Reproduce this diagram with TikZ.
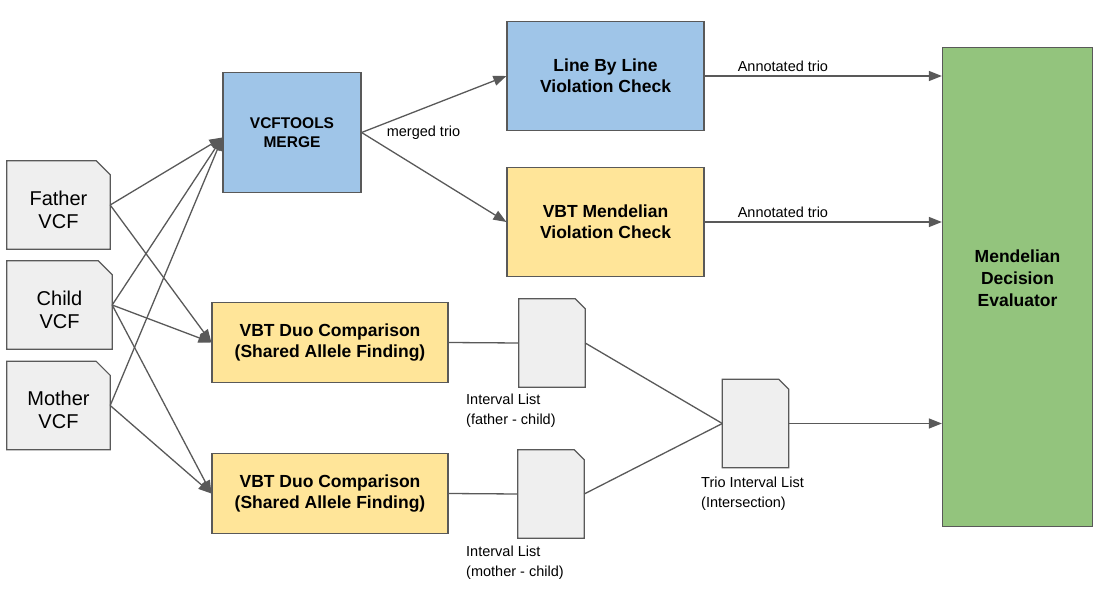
\documentclass[tikz,border=0pt]{standalone}
\usepackage{fontspec}
\setmainfont{Liberation Sans}
\usepackage{tikz}
\usetikzlibrary{arrows.meta,%
                backgrounds}

\definecolor{edgegray}{HTML}{595959}
\definecolor{docgray}{HTML}{EFEFEF}
\definecolor{toolblue}{HTML}{9FC5E8}
\definecolor{vbtyellow}{HTML}{FFE599}
\definecolor{evalgreen}{HTML}{93C47D}

\tikzset{
  box/.style = {draw=edgegray, line width=1.2pt, align=center, inner sep=0pt,
                font=\fontsize{17.5}{21}\selectfont\bfseries},
  vcfdoc/.style = {rectangle, inner sep=0pt, minimum height=88pt, text height=46.5pt,
                align=center, font=\fontsize{20}{23}\selectfont},
  listdoc/.style = {rectangle, inner sep=0pt, minimum width=66pt, minimum height=88pt},
  docline/.style = {draw=edgegray, fill=docgray, line width=1.2pt},
  doclabel/.style = {anchor=north west, align=left, inner sep=0pt,
                font=\fontsize{14.5}{19.5}\selectfont},
  flow/.style = {draw=edgegray, line width=1.3pt, -{Triangle[length=13pt,width=10pt]}},
  link/.style = {draw=edgegray, line width=1.3pt}
}

\begin{document}
\begin{tikzpicture}[x=1pt,y=-1pt]
	\useasboundingbox (0,0) rectangle (1102,593);
	% input files
	\node[vcfdoc, minimum width=103pt] (father) at (58.5,205) {Father\\VCF};
	\node[vcfdoc, minimum width=105pt] (child) at (59.5,305) {Child\\VCF};
	\node[vcfdoc, minimum width=103pt] (mother) at (58.5,405.5) {Mother\\VCF};
	% tools
	\node[box, fill=toolblue, minimum width=138pt, minimum height=120pt,
	      font=\fontsize{15.5}{19}\selectfont\bfseries] (merge) at (292,132.5) {VCFTOOLS\\MERGE};
	\node[box, fill=toolblue, minimum width=197pt, minimum height=109pt] (linecheck) at (605.5,76) {Line By Line\\Violation Check};
	\node[box, fill=vbtyellow, minimum width=197pt, minimum height=109pt] (vbtcheck) at (605.5,222) {VBT Mendelian\\Violation Check};
	\node[box, fill=vbtyellow, minimum width=236pt, minimum height=80pt] (duofather) at (330,342.5) {VBT Duo Comparison\\(Shared Allele Finding)};
	\node[box, fill=vbtyellow, minimum width=236pt, minimum height=80pt] (duomother) at (330,493.5) {VBT Duo Comparison\\(Shared Allele Finding)};
	\node[box, fill=evalgreen, minimum width=150pt, minimum height=479pt,
	      label={[font=\fontsize{17.5}{22}\selectfont\bfseries, align=center, yshift=9pt]center:Mendelian\\Decision\\Evaluator}] (evaluator) at (1017.5,287) {};
	% interval lists
	\node[listdoc] (listfather) at (552,343) {};
	\node[listdoc] (listmother) at (551,494) {};
	\node[listdoc] (listtrio) at (755.5,423.5) {};
	% document outlines with folded corner
	\begin{scope}[on background layer]
		\foreach \n/\c in {father/14,child/14,mother/14,listfather/10,listmother/10,listtrio/10}
			\path[docline] (\n.south west) |- ([xshift=-\c pt]\n.north east)
				-- ([yshift=-\c pt]\n.north east) -- (\n.south east) -- cycle;
	\end{scope}
	\node[doclabel] (lblfather) at (466,394) {Interval List\\(father - child)};
	\node[doclabel] (lblmother) at (466,546) {Interval List\\(mother - child)};
	\node[doclabel] (lbltrio) at (701,477) {Trio Interval List\\(Intersection)};
	% connectors
	\draw[flow] (father.east) -- ([yshift=-5pt]merge.west);
	\draw[flow] (child.east) -- ([yshift=-5pt]merge.west);
	\draw[flow] (mother.east) -- ([yshift=-5pt]merge.west);
	\draw[flow] (father.east) -- (duofather.west);
	\draw[flow] (child.east) -- (duofather.west);
	\draw[flow] (child.east) -- (duomother.west);
	\draw[flow] (mother.east) -- (duomother.west);
	\draw[flow] (merge.east) -- (linecheck.west);
	\draw[flow] (merge.east) -- (vbtcheck.west);
	\node[anchor=west, inner sep=0pt, font=\fontsize{14.5}{17}\selectfont] (mergedlbl) at ([xshift=25pt]merge.east) {merged trio};
	\draw[flow] (linecheck.east) -- node[pos=0.33, above, font=\fontsize{14.5}{17}\selectfont] {Annotated trio} (linecheck.east -| evaluator.west);
	\draw[flow] (vbtcheck.east) -- node[pos=0.33, above, font=\fontsize{14.5}{17}\selectfont] {Annotated trio} (vbtcheck.east -| evaluator.west);
	\draw[link] (duofather.east) -- (listfather.west);
	\draw[link] (duomother.east) -- (listmother.west);
	\draw[link] (listfather.east) -- (listtrio.west);
	\draw[link] (listmother.east) -- (listtrio.west);
	\draw[flow] (listtrio.east) -- (listtrio.east -| evaluator.west);
\end{tikzpicture}
\end{document}
